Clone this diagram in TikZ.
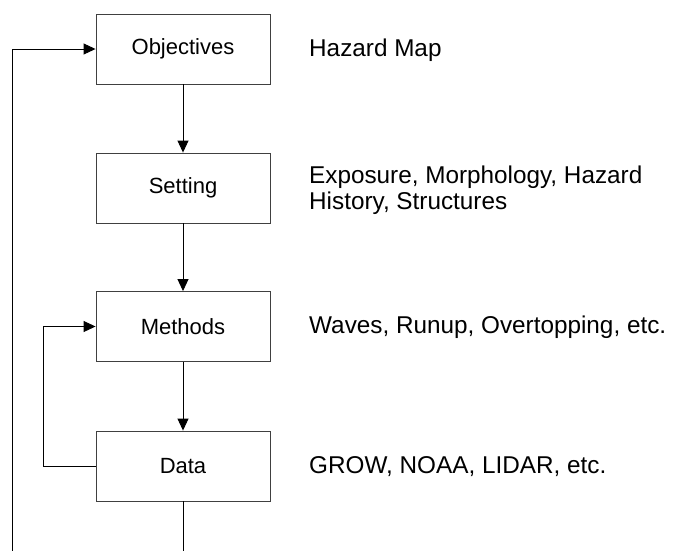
\documentclass[tikz,border=0pt]{standalone}
\usepackage{fontspec}
\setmainfont{Liberation Sans}
\usetikzlibrary{arrows.meta}
\begin{document}
\begin{tikzpicture}[x=1pt,y=-1pt,
  stepbox/.style={draw=black!75, line width=0.9pt, minimum width=174pt, minimum height=70pt, inner sep=0pt, font=\fontsize{22}{26}\selectfont},
  lbl/.style={anchor=west, inner sep=0pt, align=left, font=\fontsize{24.3}{26}\selectfont},
  conn/.style={line width=0.9pt, -{Triangle[length=12pt,width=11pt]}},
  plain/.style={line width=0.9pt}]
\useasboundingbox (0,0) rectangle (673,550);
\clip (0,0) rectangle (673,550);
\node[stepbox] (obj) at (183,49) {Objectives};
\node[stepbox] (set) at (183,188) {Setting};
\node[stepbox] (met) at (183,326.5) {Methods};
\node[stepbox] (dat) at (183,466) {Data};
\node[lbl] (l1) at (309,50) {Hazard Map};
\node[lbl] (l2) at (309,190) {Exposure, Morphology, Hazard\\History, Structures};
\node[lbl] (l3) at (309,327.5) {Waves, Runup, Overtopping, etc.};
\node[lbl] (l4) at (309,467) {GROW, NOAA, LIDAR, etc.};
\coordinate (bl) at (12,600);
\draw[conn] (obj) -- (set);
\draw[conn] (set) -- (met);
\draw[conn] (met) -- (dat);
\draw[conn] (dat.west) -- (43,466) |- (met.west);
\draw[conn] (dat.south) |- (bl) |- (obj.west);
\end{tikzpicture}
\end{document}
